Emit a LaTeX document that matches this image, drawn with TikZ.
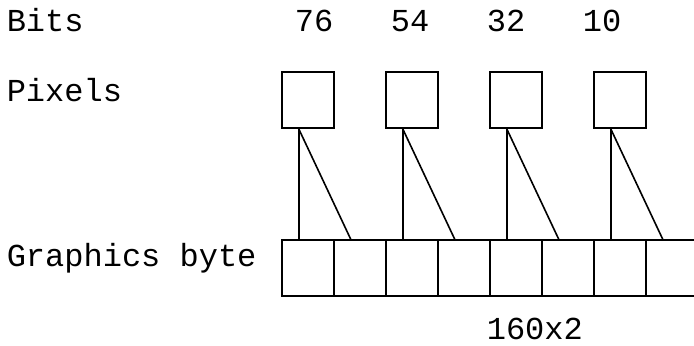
\documentclass[tikz,border=0pt]{standalone}
\usepackage{fontspec}
\setmonofont{Liberation Mono}
\usetikzlibrary{positioning}

\begin{document}
\begin{tikzpicture}[x=1pt,y=1pt,line width=0.8pt,node distance=52pt,
 pixel node/.style={rectangle,draw,minimum width=26pt,minimum height=28pt,inner sep=0pt},
 byte node/.style={rectangle,draw,minimum width=26pt,minimum height=28pt,inner sep=0pt},
 label text/.style={anchor=base west,inner sep=0pt,font=\ttfamily\fontsize{16}{19}\selectfont}]

  \useasboundingbox (0,0) rectangle (347,-173);

  % row labels
  \node[label text] (bits) at (3,-16) {Bits};
  \node[label text] (pixels) at (3,-50.85) {Pixels};
  \node[label text] (graphics) at (3,-133.3) {Graphics byte};
  \node[label text] (count) at (243,-170) {160x2};

  \node[label text] (bits76) at (147,-16) {76};
  \node[label text] (bits54) at (195,-16) {54};
  \node[label text] (bits32) at (243,-16) {32};
  \node[label text] (bits10) at (291,-16) {10};

  % pixels
  \node[pixel node] (p1) at (154,-50) {};
  \node[pixel node] (p2) [right of=p1] {};
  \node[pixel node] (p3) [right of=p2] {};
  \node[pixel node] (p4) [right of=p3] {};

  % graphics byte
  \node[byte node] (b1) at (154,-134) {};
  \foreach \i [count=\j from 2] in {1,...,7} {
   \node[byte node] (b\j) [right of=b\i, node distance=26pt] {};}

  \foreach \p/\a/\b in {p1/b1/b2, p2/b3/b4, p3/b5/b6, p4/b7/b8} {
   \draw ([xshift=8.75pt]\p.south west) -- ([xshift=8.75pt]\a.north west);
   \draw ([xshift=8.75pt]\p.south west) -- ([xshift=8.75pt]\b.north west);}
\end{tikzpicture}
\end{document}
